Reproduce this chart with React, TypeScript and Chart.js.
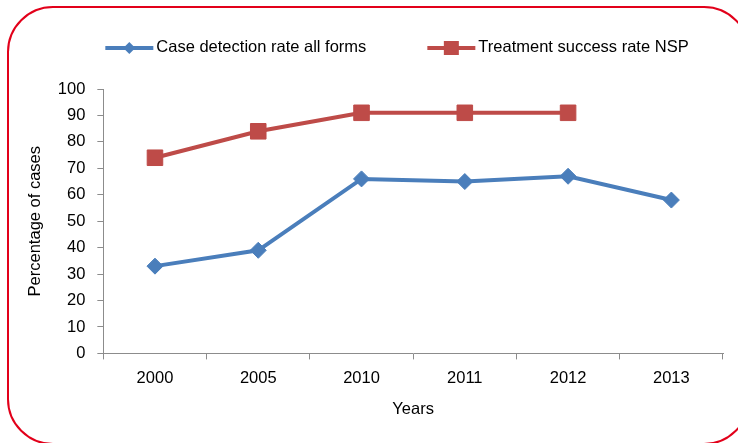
import React, { useEffect, useRef } from "react";
import { Chart, registerables } from "chart.js";

Chart.register(...registerables);

const categories = ["2000", "2005", "2010", "2011", "2012", "2013"];
const caseDetectionRate = [33, 39, 66, 65, 67, 58];
const treatmentSuccessRate = [74, 84, 91, 91, 91, null];
const seriesLabels = ["Case detection rate all forms", "Treatment success rate NSP"];
const yAxisTitle = "Percentage of cases";
const xAxisTitle = "Years";
const yMin = 0;
const yMax = 100;
const yStep = 10;

const BLUE = "#4A7EBB";
const RED = "#BE4B48";
const AXIS = "#8C8C8C";
const FONT = "'Liberation Sans', Arial, sans-serif";
const FS = 16.5;

const lineLegend = {
  id: "lineLegend",
  afterDraw(chart: any) {
    const ctx = chart.ctx;
    ctx.save();
    ctx.font = `${FS}px ${FONT}`;
    ctx.textBaseline = "middle";
    ctx.textAlign = "left";
    let x = chart.chartArea.left + 2;
    const y = 48;
    chart.data.datasets.forEach((ds: any) => {
      ctx.strokeStyle = ds.borderColor;
      ctx.lineWidth = 4;
      ctx.beginPath();
      ctx.moveTo(x, y);
      ctx.lineTo(x + 48, y);
      ctx.stroke();
      ctx.fillStyle = ds.backgroundColor;
      const cx = x + 24;
      if (ds.pointStyle === "rect") {
        ctx.fillRect(cx - 7.5, y - 7, 15, 14);
      } else {
        ctx.beginPath();
        ctx.moveTo(cx, y - 6);
        ctx.lineTo(cx + 6, y);
        ctx.lineTo(cx, y + 6);
        ctx.lineTo(cx - 6, y);
        ctx.closePath();
        ctx.fill();
      }
      ctx.fillStyle = "#000";
      ctx.fillText(ds.label, x + 51, y - 1);
      x += 51 + ctx.measureText(ds.label).width + 61;
    });
    ctx.restore();
  },
};

export default function App() {
  const ref = useRef<HTMLCanvasElement | null>(null);

  useEffect(() => {
    if (!ref.current) return;
    const chart = new Chart(ref.current, {
      type: "line",
      data: {
        labels: categories,
        datasets: [
          {
            label: seriesLabels[0],
            data: caseDetectionRate,
            borderColor: BLUE,
            backgroundColor: BLUE,
            pointBackgroundColor: BLUE,
            pointBorderColor: BLUE,
            borderWidth: 4,
            pointStyle: "rectRot",
            pointRadius: 8,
            pointBorderWidth: 1,
            tension: 0,
          },
          {
            label: seriesLabels[1],
            data: treatmentSuccessRate,
            borderColor: RED,
            backgroundColor: RED,
            pointBackgroundColor: RED,
            pointBorderColor: RED,
            borderWidth: 4,
            pointStyle: "rect",
            pointRadius: 11,
            pointBorderWidth: 1,
            tension: 0,
          },
        ],
      },
      options: {
        responsive: false,
        animation: false,
        layout: { padding: { top: 89, right: 15, bottom: 24, left: 26 } },
        plugins: {
          legend: { display: false },
          tooltip: { enabled: false },
        },
        scales: {
          x: {
            offset: true,
            grid: {
              offset: true,
              drawOnChartArea: false,
              drawTicks: true,
              tickLength: 6,
              color: AXIS,
            },
            border: { display: true, color: AXIS, width: 1 },
            ticks: { color: "#000", font: { family: FONT, size: FS }, padding: 9 },
            title: {
              display: true,
              text: xAxisTitle,
              color: "#000",
              font: { family: FONT, size: FS },
              padding: { top: 2, bottom: 0 },
            },
          },
          y: {
            min: yMin,
            max: yMax,
            grid: {
              drawOnChartArea: false,
              drawTicks: true,
              tickLength: 6,
              color: AXIS,
            },
            border: { display: true, color: AXIS, width: 1 },
            ticks: {
              stepSize: yStep,
              color: "#000",
              font: { family: FONT, size: FS },
              padding: 12,
            },
            title: {
              display: true,
              text: yAxisTitle,
              color: "#000",
              font: { family: FONT, size: FS },
              padding: { top: 0, bottom: 0 },
            },
          },
        },
      },
      plugins: [lineLegend],
    });
    return () => chart.destroy();
  }, []);

  return (
    <div
      style={{
        position: "fixed",
        left: 0,
        top: 0,
        width: 738,
        height: 443,
        overflow: "hidden",
        background: "#fff",
      }}
    >
      <div
        style={{
          position: "absolute",
          left: 7,
          top: 6,
          width: 743,
          height: 439,
          boxSizing: "border-box",
          border: "2px solid #E2001A",
          borderRadius: 46,
        }}
      />
      <canvas
        ref={ref}
        width={738}
        height={443}
        style={{ position: "absolute", left: 0, top: 0, width: 738, height: 443 }}
      />
    </div>
  );
}
